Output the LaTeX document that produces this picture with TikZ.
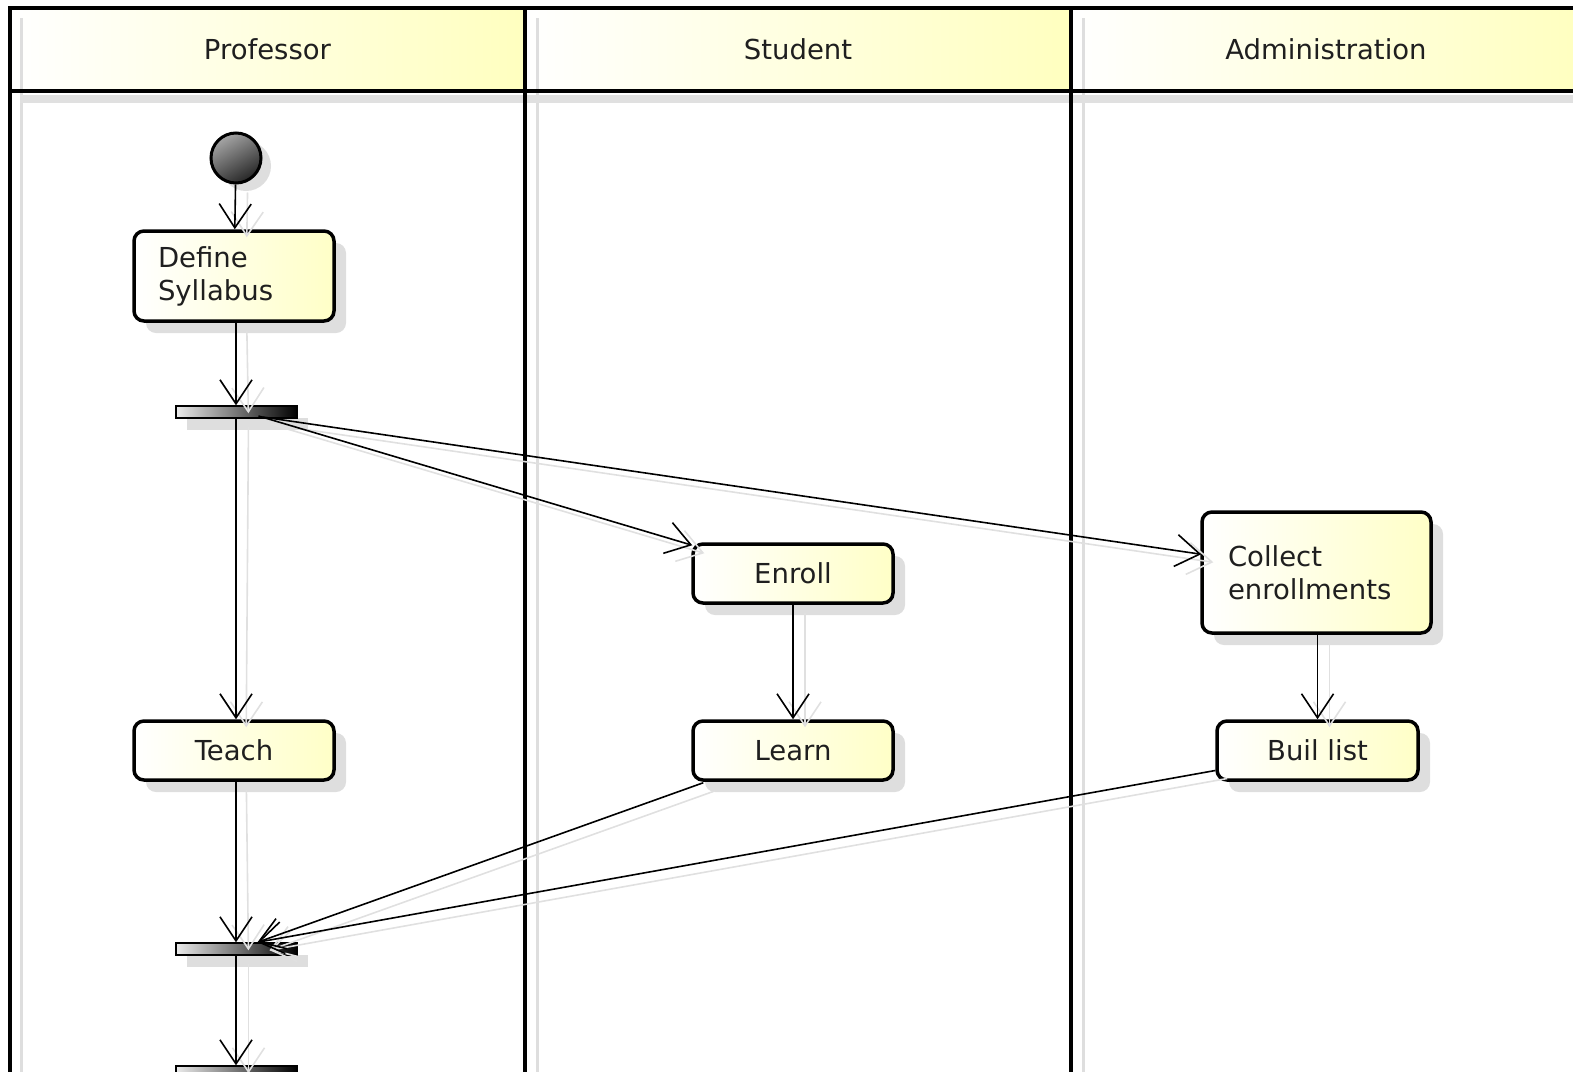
\documentclass[tikz,border=0pt]{standalone}
\usepackage{fontspec}
\setmainfont{DejaVu Sans}
\usetikzlibrary{arrows.meta,shadows,calc}
\begin{document}
\begin{tikzpicture}[x=1pt,y=-1pt,
  txt/.style={font=\fontsize{27.5}{33}\selectfont, text=black!88},
  act/.style={txt, draw=black, line width=3.5pt, rounded corners=10pt,
    left color=white, right color=yellow!22, minimum height=59pt,
    minimum width=200pt, inner sep=0pt,
    general shadow={shadow xshift=12pt, shadow yshift=-12pt, fill=black!13, draw=none}},
  bar/.style={draw=black, line width=1.5pt, left color=black!8, middle color=black!55,
    right color=black, minimum width=121pt, minimum height=12pt, inner sep=0pt,
    general shadow={shadow xshift=11pt, shadow yshift=-12pt, fill=black!13, draw=none}},
  hdr/.style={left color=white, right color=yellow!25, draw=none},
  lane/.style={line width=3.5pt, black},
  lshadow/.style={line width=3pt, black!13},
  flow/.style={line width=1.6pt, -{Straight Barb[length=24pt,width=32pt,line width=1.6pt]}},
  fshadow/.style={flow, black!12, transform canvas={xshift=12pt, yshift=-8pt}}
]
\useasboundingbox (0,0) rectangle (1573,1071);
% headers
\shade[hdr] (10,8) rectangle (525,91);
\shade[hdr] (525,8) rectangle (1071,91);
\shade[hdr] (1071,8) rectangle (1585,91);
% lane shadows
\draw[lshadow] (21,18) -- (21,1075);
\draw[lshadow] (537,18) -- (537,1075);
\draw[lshadow] (1083,18) -- (1083,1075);
\draw[line width=8pt, black!12] (20,99) -- (1580,99);
% lane lines
\draw[lane] (1580,8) -- (10,8) -- (10,1075);
\draw[lane] (10,91) -- (1580,91);
\draw[lane] (525,8) -- (525,1075);
\draw[lane] (1071,8) -- (1071,1075);
\node[txt] (hp) at (267.5,49) {Professor};
\node[txt] (hs) at (798,49) {Student};
\node[txt] (ha) at (1326,49) {Administration};

% nodes
\node[circle, draw=black, line width=3pt, minimum size=50pt, inner sep=0pt,
  top color=black!35, bottom color=black!85, shading angle=30,
  general shadow={shadow xshift=10pt, shadow yshift=-8pt, fill=black!13, draw=none}] (init) at (236,158) {};
\node[act, minimum height=90pt, text width=152pt, align=left] (def) at (234,276) {Define\\Syllabus};
\node[bar] (f1) at (236.5,412) {};
\node[act] (teach) at (234,750.5) {Teach};
\node[act] (enroll) at (793,573.5) {Enroll};
\node[act] (learn) at (793,750.5) {Learn};
\node[act, minimum width=229pt, minimum height=121pt, text width=177pt, align=left] (coll) at (1316.5,572.5) {Collect\\enrollments};
\node[act, minimum width=201pt] (buil) at (1317.5,750.5) {Buil list};
\node[bar] (j1) at (236.5,949) {};
\node[bar] (b2) at (236.5,1072) {};

% connector points
\coordinate (f1a) at ($(f1.center)+(22,4)$);
\coordinate (f1b) at ($(f1.center)+(26,5)$);
\coordinate (encorner) at ($(enroll.north west)+(1,3)$);
\coordinate (collin) at ($(coll.north west)+(1,44)$);
\coordinate (lout) at ($(learn.south west)+(12,1)$);
\coordinate (bout) at ($(buil.west)+(0,20)$);
\coordinate (jin) at ($(j1.north)+(21,0)$);

% edge shadows
\draw[fshadow] (init) -- (def);
\draw[fshadow] (def) -- (f1);
\draw[fshadow] (f1) -- (teach);
\draw[fshadow] (f1a) -- (encorner);
\draw[fshadow] (f1b) -- (collin);
\draw[fshadow] (enroll) -- (learn);
\draw[fshadow] (coll.south -| buil.north) -- (buil.north);
\draw[fshadow] (teach) -- (j1);
\draw[fshadow] (lout) -- (jin);
\draw[fshadow] (bout) -- (jin);
\draw[fshadow] (j1) -- (b2.north);

% edges
\draw[flow] (init) -- (def);
\draw[flow] (def.south -| init) -- (f1.north -| init);
\draw[flow] (f1.south -| init) -- (teach.north -| init);
\draw[flow] (f1a) -- (encorner);
\draw[flow] (f1b) -- (collin);
\draw[flow] (enroll) -- (learn);
\draw[flow] (coll.south -| buil.north) -- (buil.north);
\draw[flow] (teach.south -| init) -- (j1.north -| init);
\draw[flow] (lout) -- (jin);
\draw[flow] (bout) -- (jin);
\draw[flow] (j1.south -| init) -- (b2.north -| init);
\end{tikzpicture}
\end{document}
